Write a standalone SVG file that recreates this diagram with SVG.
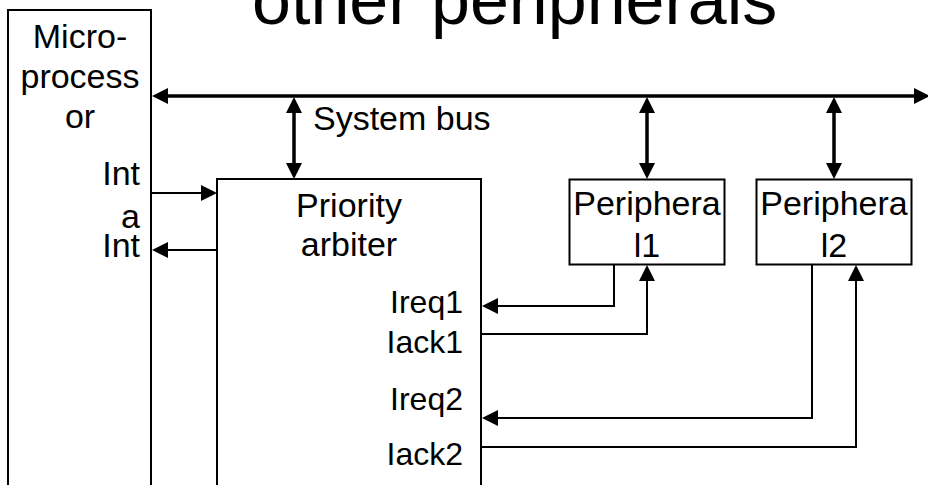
<svg xmlns="http://www.w3.org/2000/svg" width="928" height="485" viewBox="0 0 928 485">
  <style>
    text { font-family: "Liberation Sans", Arial, sans-serif; fill: #000; }
    .lbl { font-size: 34px; }
    .sig { font-size: 32px; }
    .mid { text-anchor: middle; }
    .end { text-anchor: end; }
    .box { fill: #fff; stroke: #000; stroke-width: 2; }
    .bus { fill: none; stroke: #000; stroke-width: 3.5; }
    .wire { fill: none; stroke: #000; stroke-width: 2; }
  </style>
  <defs>
    <!-- filled triangular head; refX sits mid-head so the path ends 8px before the tip -->
    <marker id="head" markerUnits="userSpaceOnUse" markerWidth="16" markerHeight="16" refX="8" refY="8" orient="auto-start-reverse" viewBox="0 0 16 16">
      <path d="M0,0 L16,8 L0,16 z" fill="#000"/>
    </marker>
  </defs>

  <rect width="928" height="485" fill="#fff"/>

  <text x="252" y="24" style="font-size:70px">other peripherals</text>

  <g id="microprocessor">
    <rect class="box" x="8" y="10" width="143" height="500"/>
    <text class="lbl mid" x="80" y="48">Micro-</text>
    <text class="lbl mid" x="80" y="88">process</text>
    <text class="lbl mid" x="80" y="128">or</text>
    <text class="lbl end" x="140" y="185">Int</text>
    <text class="lbl end" x="140" y="228">a</text>
    <text class="lbl end" x="140" y="257">Int</text>
  </g>

  <g id="priority-arbiter">
    <rect class="box" x="217" y="179" width="264" height="330"/>
    <text class="lbl mid" x="349" y="217">Priority</text>
    <text class="lbl mid" x="349" y="256">arbiter</text>
    <text class="sig end" x="463" y="313">Ireq1</text>
    <text class="sig end" x="463" y="353">Iack1</text>
    <text class="sig end" x="463" y="410">Ireq2</text>
    <text class="sig end" x="463" y="465">Iack2</text>
  </g>

  <g id="peripheral1">
    <rect class="box" x="569.5" y="179.5" width="155" height="85"/>
    <text class="lbl mid" x="647" y="215">Periphera</text>
    <text class="lbl mid" x="647" y="257">l1</text>
  </g>

  <g id="peripheral2">
    <rect class="box" x="756.5" y="179.5" width="155" height="85"/>
    <text class="lbl mid" x="834" y="215">Periphera</text>
    <text class="lbl mid" x="834" y="257">l2</text>
  </g>

  <g id="system-bus-label">
    <text class="lbl" x="313" y="130">System bus</text>
  </g>

  <g id="connectors">
    <!-- system bus, both directions -->
    <path class="bus" d="M160,96 H922" marker-start="url(#head)" marker-end="url(#head)"/>
    <!-- bus taps -->
    <path class="bus" d="M294,105 V171" marker-start="url(#head)" marker-end="url(#head)"/>
    <path class="bus" d="M647,105 V171" marker-start="url(#head)" marker-end="url(#head)"/>
    <path class="bus" d="M834,105 V171" marker-start="url(#head)" marker-end="url(#head)"/>
    <!-- Int / Inta between processor and arbiter -->
    <path class="wire" d="M151,193 H209" marker-end="url(#head)"/>
    <path class="wire" d="M217,250 H160" marker-end="url(#head)"/>
    <!-- request / acknowledge lines -->
    <path class="wire" d="M614,264 V306 H490" marker-end="url(#head)"/>
    <path class="wire" d="M481,334 H647 V273" marker-end="url(#head)"/>
    <path class="wire" d="M812,264 V418 H490" marker-end="url(#head)"/>
    <path class="wire" d="M481,447 H856 V273" marker-end="url(#head)"/>
  </g>
</svg>
